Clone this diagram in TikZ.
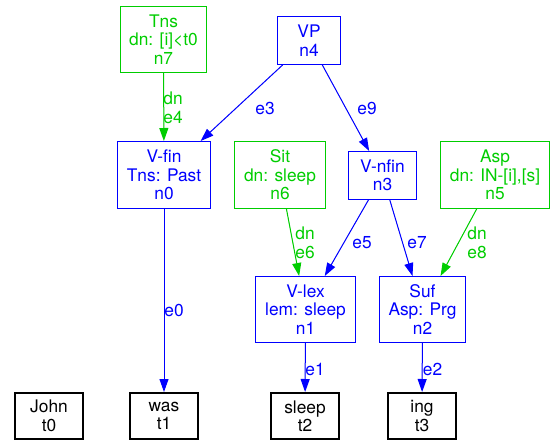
\documentclass[tikz,border=0pt]{standalone}
\usepackage{fontspec}
\setmainfont{TeX Gyre Heros}
\usetikzlibrary{arrows.meta}
\definecolor{gvgreen}{RGB}{0,205,0}
\definecolor{gvblue}{RGB}{0,0,255}
\begin{document}
\begin{tikzpicture}[x=0.75pt,y=-0.75pt,
 box/.style={draw, rectangle, align=center, inner sep=0pt, font=\fontsize{13}{13.8}\selectfont, line width=0.75pt},
 bl/.style={box, draw=gvblue, text=gvblue},
 gr/.style={box, draw=gvgreen, text=gvgreen},
 tok/.style={box, draw=black, text=black, line width=1.5pt, minimum width=51pt, minimum height=34.5pt},
 edge/.style={line width=0.75pt, -{Triangle[length=9.75pt,width=6.75pt]}},
 be/.style={edge, draw=gvblue, fill=gvblue},
 ge/.style={edge, draw=gvgreen, fill=gvgreen},
 lbl/.style={font=\fontsize{13}{13.8}\selectfont, align=center, inner sep=0pt}]
\useasboundingbox (0,0) rectangle (551,443);
% nodes
\node[gr, minimum width=64.5pt, minimum height=49.5pt] (n7) at (163.5,39.5) {Tns\\dn: [i]<t0\\n7};
\node[bl, minimum width=47.25pt, minimum height=36pt] (n4) at (309,40.5) {VP\\n4};
\node[bl, minimum width=69.75pt, minimum height=50.25pt] (n0) at (164,175) {V-fin\\Tns: Past\\n0};
\node[gr, minimum width=68.25pt, minimum height=50.25pt] (n6) at (280,175) {Sit\\dn: sleep\\n6};
\node[bl, minimum width=51pt, minimum height=36pt] (n3) at (382.5,175.5) {V-nfin\\n3};
\node[gr, minimum width=81.75pt, minimum height=50.25pt] (n5) at (495,175) {Asp\\dn: IN-[i],[s]\\n5};
\node[bl, minimum width=75pt, minimum height=49.5pt] (n1) at (305.5,309.5) {V-lex\\lem: sleep\\n1};
\node[bl, minimum width=64.5pt, minimum height=49.5pt] (n2) at (422.5,309.5) {Suf\\Asp: Prg\\n2};
\node[tok] (t0) at (49,416) {John\\t0};
\node[tok] (t1) at (164,416) {was\\t1};
\node[tok] (t2) at (305,416) {sleep\\t2};
\node[tok] (t3) at (422,416) {ing\\t3};
% edges
\draw[ge] (n7) -- (n0);
\draw[be] (n4) -- (n0);
\draw[be] (n4) -- (n3);
\draw[be] (n0) -- (t1);
\draw[ge] (n6) -- (n1);
\draw[be] (n3) -- (n1);
\draw[be] (n3) -- (n2);
\draw[ge] (n5) -- (n2);
\draw[be] (n1) -- (t2);
\draw[be] (n2) -- (t3);
% edge labels
\node[lbl, text=gvgreen] (l4) at (173,108) {dn\\e4};
\node[lbl, text=gvblue] (l3) at (265,108) {e3};
\node[lbl, text=gvblue] (l9) at (367,108) {e9};
\node[lbl, text=gvblue] (l0) at (174,310) {e0};
\node[lbl, text=gvgreen] (l6) at (305,243) {dn\\e6};
\node[lbl, text=gvblue] (l5) at (362,243) {e5};
\node[lbl, text=gvblue] (l7) at (417,243) {e7};
\node[lbl, text=gvgreen] (l8) at (477,243) {dn\\e8};
\node[lbl, text=gvblue] (l1) at (315,369) {e1};
\node[lbl, text=gvblue] (l2) at (432.5,369) {e2};
\end{tikzpicture}
\end{document}
